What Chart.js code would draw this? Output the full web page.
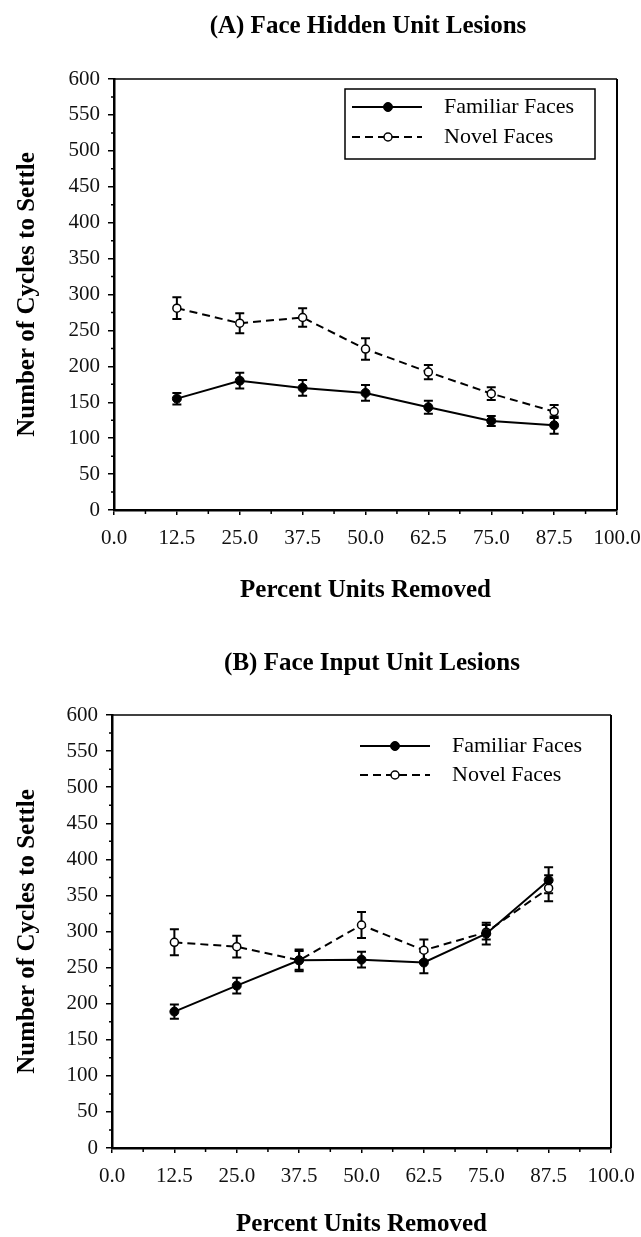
<!DOCTYPE html>
<html>
<head>
<meta charset="utf-8">
<script src="https://cdn.jsdelivr.net/npm/chart.js@4.4.1/dist/chart.umd.min.js"></script>
<style>
  html, body { margin: 0; padding: 0; background: #fff; }
  .panel { position: absolute; left: 0; width: 641px; }
  #panelA { top: 0; height: 620px; }
  #panelB { top: 620px; height: 617px; }
</style>
</head>
<body>
<div class="panel" id="panelA"><canvas id="chartA"></canvas></div>
<div class="panel" id="panelB"><canvas id="chartB"></canvas></div>
<script>
const X_VALUES = [12.5, 25, 37.5, 50, 62.5, 75, 87.5];
const X_TICKS = [0, 12.5, 25, 37.5, 50, 62.5, 75, 87.5, 100];
const X_MINOR = [6.25, 18.75, 31.25, 43.75, 56.25, 68.75, 81.25, 93.75];
const Y_TICKS = [0, 50, 100, 150, 200, 250, 300, 350, 400, 450, 500, 550, 600];
const Y_MINOR = [25, 75, 125, 175, 225, 275, 325, 375, 425, 475, 525, 575];

// (A) hidden unit lesions
const hiddenFamiliar = [155, 180, 170, 163, 143, 124, 118];
const hiddenFamiliarErr = [8, 11, 11, 11, 9, 7, 12];
const hiddenNovel = [281, 260, 268, 224, 192, 162, 137];
const hiddenNovelErr = [15, 14, 13, 15, 10, 9, 9];

// (B) input unit lesions
const inputFamiliar = [189, 225, 260, 261, 257, 297, 371];
const inputFamiliarErr = [10, 11, 15, 11, 15, 15, 18];
const inputNovel = [285, 279, 260, 309, 274, 299, 360];
const inputNovelErr = [18, 15, 13, 18, 15, 10, 18];

const SERIF = "'Liberation Serif', 'DejaVu Serif', serif";

function points(vals) {
  return X_VALUES.map((x, i) => ({ x, y: vals[i] }));
}

const decorPlugin = {
  id: "decor",
  beforeDatasetsDraw(chart) {
    const ctx = chart.ctx;
    const y = chart.scales.y;
    ctx.save();
    ctx.strokeStyle = "#000";
    ctx.lineWidth = 2;
    chart.data.datasets.forEach((ds, di) => {
      const meta = chart.getDatasetMeta(di);
      meta.data.forEach((pt, i) => {
        const v = ds.data[i].y;
        const e = ds.errors[i];
        const top = y.getPixelForValue(v + e);
        const bot = y.getPixelForValue(v - e);
        ctx.beginPath();
        ctx.moveTo(pt.x, top);
        ctx.lineTo(pt.x, bot);
        ctx.moveTo(pt.x - 4.5, top);
        ctx.lineTo(pt.x + 4.5, top);
        ctx.moveTo(pt.x - 4.5, bot);
        ctx.lineTo(pt.x + 4.5, bot);
        ctx.stroke();
      });
    });
    ctx.restore();
  },
  afterDraw(chart, args, opts) {
    const { ctx, chartArea: a, scales: { x, y } } = chart;
    ctx.save();
    ctx.strokeStyle = "#000";

    // top and right frame
    ctx.lineWidth = 1.5;
    ctx.beginPath();
    ctx.moveTo(a.left, a.top);
    ctx.lineTo(a.right, a.top);
    ctx.stroke();
    ctx.lineWidth = 2;
    ctx.beginPath();
    ctx.moveTo(a.right, a.top);
    ctx.lineTo(a.right, a.bottom);
    ctx.stroke();

    // minor ticks
    ctx.lineWidth = 1.5;
    ctx.beginPath();
    Y_MINOR.forEach((v) => {
      const py = y.getPixelForValue(v);
      ctx.moveTo(a.left, py);
      ctx.lineTo(a.left - 3, py);
    });
    X_MINOR.forEach((v) => {
      const px = x.getPixelForValue(v);
      ctx.moveTo(px, a.bottom);
      ctx.lineTo(px, a.bottom + 4);
    });
    ctx.stroke();

    // panel title
    ctx.fillStyle = "#000";
    ctx.font = "bold 25px " + SERIF;
    ctx.textAlign = "center";
    ctx.textBaseline = "middle";
    ctx.fillText(opts.title, opts.titleX, opts.titleY);

    // legend
    const lg = opts.legend;
    if (lg.box) {
      ctx.lineWidth = 1.5;
      ctx.strokeRect(a.left + lg.boxLeft, a.top + lg.boxTop, lg.boxW, lg.boxH);
    }
    ctx.font = "22px " + SERIF;
    ctx.textAlign = "left";
    chart.data.datasets.forEach((ds, i) => {
      const ry = a.top + lg.rows[i];
      ctx.lineWidth = ds.borderWidth;
      ctx.setLineDash(ds.borderDash || []);
      ctx.beginPath();
      ctx.moveTo(a.left + lg.lineX0, ry);
      ctx.lineTo(a.left + lg.lineX1, ry);
      ctx.stroke();
      ctx.setLineDash([]);
      ctx.beginPath();
      ctx.arc(a.left + lg.markX, ry, ds.pointRadius, 0, Math.PI * 2);
      ctx.fillStyle = ds.pointBackgroundColor;
      ctx.fill();
      ctx.lineWidth = ds.pointBorderWidth;
      ctx.stroke();
      ctx.fillStyle = "#000";
      ctx.fillText(ds.label, a.left + lg.textX, ry);
    });
    ctx.restore();
  },
};

function makeChart(id, cfg) {
  const tickFont = { family: SERIF, size: 21 };
  const titleFont = { family: SERIF, size: 25, weight: "bold", lineHeight: 1 };
  return new Chart(document.getElementById(id), {
    type: "line",
    data: {
      datasets: [
        {
          label: "Familiar Faces",
          data: points(cfg.familiar),
          errors: cfg.familiarErr,
          borderColor: "#000",
          borderWidth: 2,
          pointRadius: 4.5,
          pointBackgroundColor: "#000",
          pointBorderColor: "#000",
          pointBorderWidth: 1,
          tension: 0,
        },
        {
          label: "Novel Faces",
          data: points(cfg.novel),
          errors: cfg.novelErr,
          borderColor: "#000",
          borderWidth: 2,
          borderDash: [8, 5],
          pointRadius: 4,
          pointBackgroundColor: "#fff",
          pointBorderColor: "#000",
          pointBorderWidth: 1.5,
          tension: 0,
        },
      ],
    },
    options: {
      responsive: true,
      maintainAspectRatio: false,
      animation: false,
      devicePixelRatio: 1,
      layout: { padding: { top: cfg.top, right: cfg.right, left: 0, bottom: 0 } },
      plugins: {
        legend: { display: false },
        tooltip: { enabled: false },
        decor: { title: cfg.title, titleX: cfg.titleX, titleY: cfg.titleY, legend: cfg.legend },
      },
      scales: {
        x: {
          type: "linear",
          min: 0,
          max: 100,
          afterBuildTicks: (s) => { s.ticks = X_TICKS.map((v) => ({ value: v })); },
          afterFit: (s) => {
            s.height = cfg.xHeight;
            s.paddingLeft = 0;
            s.paddingRight = 0;
          },
          grid: { drawOnChartArea: false, color: "#000", lineWidth: 1.5, tickLength: 5 },
          border: { color: "#000", width: 2.5 },
          ticks: {
            font: tickFont,
            color: "#111",
            padding: 11,
            maxRotation: 0,
            autoSkip: false,
            callback: (v) => Number(v).toFixed(1),
          },
          title: {
            display: true,
            text: "Percent Units Removed",
            font: titleFont,
            color: "#000",
            padding: { top: 0, bottom: cfg.xTitlePad },
          },
        },
        y: {
          min: 0,
          max: 600,
          afterBuildTicks: (s) => { s.ticks = Y_TICKS.map((v) => ({ value: v })); },
          afterFit: (s) => {
            s.width = cfg.left;
            s.paddingTop = 0;
            s.paddingBottom = 0;
          },
          grid: { drawOnChartArea: false, color: "#000", lineWidth: 1.5, tickLength: 6 },
          border: { color: "#000", width: 2.5 },
          ticks: { font: tickFont, color: "#111", padding: 8 },
          title: {
            display: true,
            text: "Number of Cycles to Settle",
            font: titleFont,
            color: "#000",
            padding: { top: 15, bottom: 0 },
          },
        },
      },
    },
    plugins: [decorPlugin],
  });
}

makeChart("chartA", {
  familiar: hiddenFamiliar,
  familiarErr: hiddenFamiliarErr,
  novel: hiddenNovel,
  novelErr: hiddenNovelErr,
  title: "(A) Face Hidden Unit Lesions",
  titleX: 368,
  titleY: 27,
  top: 79,
  right: 24,
  left: 114,
  xHeight: 110,
  xTitlePad: 17,
  legend: { box: true, boxLeft: 231, boxTop: 10, boxW: 250, boxH: 70, rows: [28, 58], lineX0: 238, lineX1: 308, markX: 274, textX: 330 },
});

makeChart("chartB", {
  familiar: inputFamiliar,
  familiarErr: inputFamiliarErr,
  novel: inputNovel,
  novelErr: inputNovelErr,
  title: "(B) Face Input Unit Lesions",
  titleX: 372,
  titleY: 44,
  top: 95,
  right: 30,
  left: 112,
  xHeight: 89,
  xTitlePad: 0,
  legend: { box: false, rows: [31, 60], lineX0: 248, lineX1: 318, markX: 283, textX: 340 },
});
</script>
</body>
</html>
